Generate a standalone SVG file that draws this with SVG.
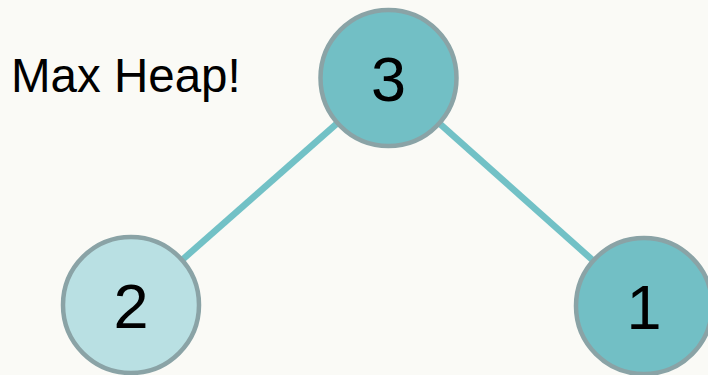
<svg xmlns="http://www.w3.org/2000/svg" width="708" height="375" viewBox="0 0 708 375">
<style>
.edge{stroke:#72c1c6;stroke-width:6.5;fill:none}
.node{stroke:#8aa3a6;stroke-width:4.5}
.dark{fill:#72bfc5}
.light{fill:#b9e0e3}
.lbl{font-family:"Liberation Sans",Arial,sans-serif;font-size:63px;fill:#000;text-anchor:middle}
.title{font-family:"Liberation Sans",Arial,sans-serif;font-size:47.5px;fill:#000}
</style>
<rect width="708" height="375" fill="#fafaf6"/>
<g id="connectors">
<line class="edge" x1="388.5" y1="78" x2="131" y2="305"/>
<line class="edge" x1="388.5" y1="78" x2="644" y2="306"/>
</g>
<text class="title" x="11" y="92">Max Heap!</text>
<g id="node3">
<circle class="node dark" cx="388.5" cy="78" r="68"/>
<text class="lbl" x="388.5" y="101">3</text>
</g>
<g id="node2">
<circle class="node light" cx="131" cy="305" r="68"/>
<text class="lbl" x="131" y="328">2</text>
</g>
<g id="node1">
<circle class="node dark" cx="644" cy="306" r="68"/>
<text class="lbl" x="644" y="329">1</text>
</g>
</svg>
